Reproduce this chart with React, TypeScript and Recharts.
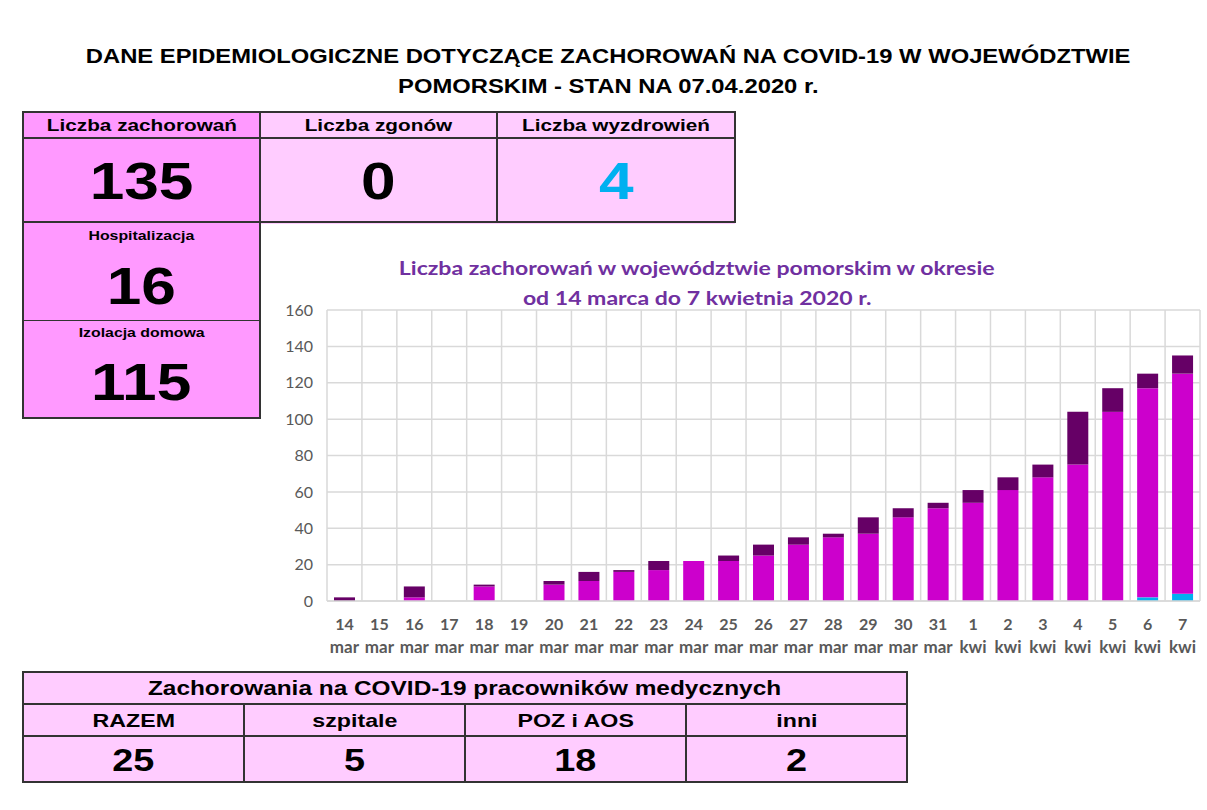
import React from 'react'
import { BarChart, Bar, XAxis, YAxis, CartesianGrid } from 'recharts'

// Daily confirmed cases in pomorskie voivodeship, 14 Mar – 7 Apr 2020.
const days = ['14', '15', '16', '17', '18', '19', '20', '21', '22', '23', '24', '25', '26', '27', '28', '29', '30', '31', '1', '2', '3', '4', '5', '6', '7']
const months = ['mar', 'mar', 'mar', 'mar', 'mar', 'mar', 'mar', 'mar', 'mar', 'mar', 'mar', 'mar', 'mar', 'mar', 'mar', 'mar', 'mar', 'mar', 'kwi', 'kwi', 'kwi', 'kwi', 'kwi', 'kwi', 'kwi']
// cumulative recovered (bottom, blue)
const recovered = [0, 0, 0, 0, 0, 0, 0, 0, 0, 0, 0, 0, 0, 0, 0, 0, 0, 0, 0, 0, 0, 0, 0, 2, 4]
// earlier cases still active (magenta)
const previous = [0, 0, 2, 0, 8, 0, 9, 11, 16, 17, 22, 22, 25, 31, 35, 37, 46, 51, 54, 61, 68, 75, 104, 115, 121]
// new cases that day (dark purple)
const newCases = [2, 0, 6, 0, 1, 0, 2, 5, 1, 5, 0, 3, 6, 4, 2, 9, 5, 3, 7, 7, 7, 29, 13, 8, 10]
const yTicks = [0, 20, 40, 60, 80, 100, 120, 140, 160]

const chartData = days.map((d, i) => ({
  key: i,
  day: d,
  month: months[i],
  recovered: recovered[i],
  previous: previous[i],
  newCases: newCases[i],
}))

const PINK_DARK = '#ff99ff'
const PINK_LIGHT = '#ffccff'
const ARIAL = '"Liberation Sans", Arial, sans-serif'
const LABEL = '"Lato", "Open Sans", sans-serif'
// the source screenshot is stretched horizontally
const STRETCH = 1.22

function Wide({ children, scale = STRETCH }: { children: React.ReactNode; scale?: number }) {
  return <span style={{ display: 'inline-block', transform: `scaleX(${scale})` }}>{children}</span>
}

function Cell({ x, y, w, h, bg, size, color = '#000', children }: any) {
  return (
    <div
      style={{
        position: 'absolute', left: x, top: y, width: w, height: h, background: bg,
        display: 'flex', alignItems: 'center', justifyContent: 'center',
        fontFamily: ARIAL, fontWeight: 'bold', fontSize: size, color, boxSizing: 'border-box',
        whiteSpace: 'nowrap', lineHeight: 1,
      }}
    >
      <Wide>{children}</Wide>
    </div>
  )
}

function Lines({ lines }: { lines: Array<[number, number, number, number]> }) {
  return (
    <>
      {lines.map(([x1, y1, x2, y2], i) => (
        <div
          key={i}
          style={{
            position: 'absolute', left: Math.min(x1, x2), top: Math.min(y1, y2),
            width: Math.max(1, Math.abs(x2 - x1)), height: Math.max(1, Math.abs(y2 - y1)),
            background: '#333',
          }}
        />
      ))}
    </>
  )
}

const DateTick = (props: any) => {
  const { x, y, payload } = props
  const row = chartData[payload.value]
  return (
    <g transform={`translate(${x},${y})`}>
      <text x={0} y={21} textAnchor="middle" fill="#595959" fontFamily={LABEL} fontWeight="bold" fontSize={16}>{row.day}</text>
      <text x={0} y={44} textAnchor="middle" fill="#595959" fontFamily={LABEL} fontWeight="bold" fontSize={17}>{row.month}</text>
    </g>
  )
}

export default function App() {
  return (
    <div style={{ position: 'absolute', left: 0, top: 0, width: 1207, height: 810, background: '#fff', overflow: 'hidden' }}>
      <div style={{ position: 'absolute', left: 0, top: 41, width: 1217, textAlign: 'center', fontFamily: ARIAL, fontWeight: 'bold', fontSize: 19.5, lineHeight: '30px', color: '#000', whiteSpace: 'nowrap' }}>
        <Wide>DANE EPIDEMIOLOGICZNE DOTYCZĄCE ZACHOROWAŃ NA COVID-19 W WOJEWÓDZTWIE</Wide>
        <br />
        <Wide>POMORSKIM - STAN NA 07.04.2020 r.</Wide>
      </div>

      {/* top summary table */}
      <Cell x={23} y={112} w={237} h={26} bg={PINK_DARK} size={17}>Liczba zachorowań</Cell>
      <Cell x={260} y={112} w={237} h={26} bg={PINK_LIGHT} size={17}>Liczba zgonów</Cell>
      <Cell x={497} y={112} w={238} h={26} bg={PINK_LIGHT} size={17}>Liczba wyzdrowień</Cell>
      <Cell x={23} y={138} w={237} h={86} bg={PINK_DARK} size={51}>135</Cell>
      <Cell x={260} y={138} w={237} h={86} bg={PINK_LIGHT} size={51}>0</Cell>
      <Cell x={497} y={138} w={238} h={86} bg={PINK_LIGHT} size={51} color="#00b0f0">4</Cell>
      <div style={{ position: 'absolute', left: 23, top: 222, width: 237, height: 196, background: PINK_DARK }} />
      <Cell x={23} y={227} w={237} h={16} bg="transparent" size={13}>Hospitalizacja</Cell>
      <Cell x={23} y={257} w={237} h={58} bg="transparent" size={51}>16</Cell>
      <Cell x={23} y={324} w={237} h={16} bg="transparent" size={13}>Izolacja domowa</Cell>
      <Cell x={23} y={353} w={237} h={58} bg="transparent" size={51}>115</Cell>
      <Lines
        lines={[
          [23, 111, 736, 113], [23, 137, 736, 139], [23, 221, 736, 223],
          [23, 320, 260, 321], [23, 417, 261, 419],
          [22, 111, 24, 419], [259, 111, 261, 419], [496, 111, 498, 223], [734, 111, 736, 223],
        ]}
      />

      {/* medical staff table */}
      <div style={{ position: 'absolute', left: 23, top: 672, width: 884, height: 110, background: PINK_LIGHT }} />
      <Cell x={23} y={672} w={884} h={32} bg="transparent" size={20}>Zachorowania na COVID-19 pracowników medycznych</Cell>
      <Cell x={23} y={704} w={221} h={32} bg="transparent" size={19}>RAZEM</Cell>
      <Cell x={244} y={704} w={221} h={32} bg="transparent" size={19}>szpitale</Cell>
      <Cell x={465} y={704} w={221} h={32} bg="transparent" size={19}>POZ i AOS</Cell>
      <Cell x={686} y={704} w={221} h={32} bg="transparent" size={19}>inni</Cell>
      <Cell x={23} y={736} w={221} h={48} bg="transparent" size={31}>25</Cell>
      <Cell x={244} y={736} w={221} h={48} bg="transparent" size={31}>5</Cell>
      <Cell x={465} y={736} w={221} h={48} bg="transparent" size={31}>18</Cell>
      <Cell x={686} y={736} w={221} h={48} bg="transparent" size={31}>2</Cell>
      <Lines
        lines={[
          [23, 671, 908, 673], [23, 703, 908, 705], [23, 735, 908, 737], [23, 781, 908, 783],
          [22, 671, 24, 783], [906, 671, 908, 783],
          [243, 704, 245, 783], [464, 704, 466, 783], [685, 704, 687, 783],
        ]}
      />

      {/* chart title */}
      <div style={{ position: 'absolute', left: 397, top: 253, width: 600, textAlign: 'center', fontFamily: LABEL, fontWeight: 'bold', fontSize: 18, lineHeight: '30px', color: '#7030a0', whiteSpace: 'nowrap' }}>
        <Wide scale={1.28}>Liczba zachorowań w województwie pomorskim w okresie</Wide>
        <br />
        <Wide scale={1.28}>od 14 marca do 7 kwietnia 2020 r.</Wide>
      </div>

      <div style={{ position: 'absolute', left: 270, top: 300 }}>
        <BarChart
          width={935}
          height={356}
          data={chartData}
          margin={{ top: 10, right: 5, bottom: 5, left: 12 }}
          barCategoryGap="20%"
        >
          <CartesianGrid
            stroke="#d9d9d9"
            strokeWidth={1.5}
            verticalCoordinatesGenerator={({ offset }: any) =>
              Array.from({ length: days.length + 1 }, (_, i) => offset.left + (i * offset.width) / days.length)
            }
          />
          <XAxis
            dataKey="key"
            interval={0}
            height={50}
            tickLine={false}
            axisLine={{ stroke: '#d9d9d9', strokeWidth: 1.5 }}
            tick={<DateTick />}
          />
          <YAxis
            domain={[0, 160]}
            ticks={yTicks}
            width={45}
            axisLine={false}
            tickLine={false}
            tick={{ fill: '#595959', fontFamily: LABEL, fontSize: 16, dx: -6 }}
          />
          <Bar dataKey="recovered" stackId="a" fill="#00b0f0" isAnimationActive={false} />
          <Bar dataKey="previous" stackId="a" fill="#cc00cc" isAnimationActive={false} />
          <Bar dataKey="newCases" stackId="a" fill="#660066" isAnimationActive={false} />
        </BarChart>
      </div>
    </div>
  )
}
